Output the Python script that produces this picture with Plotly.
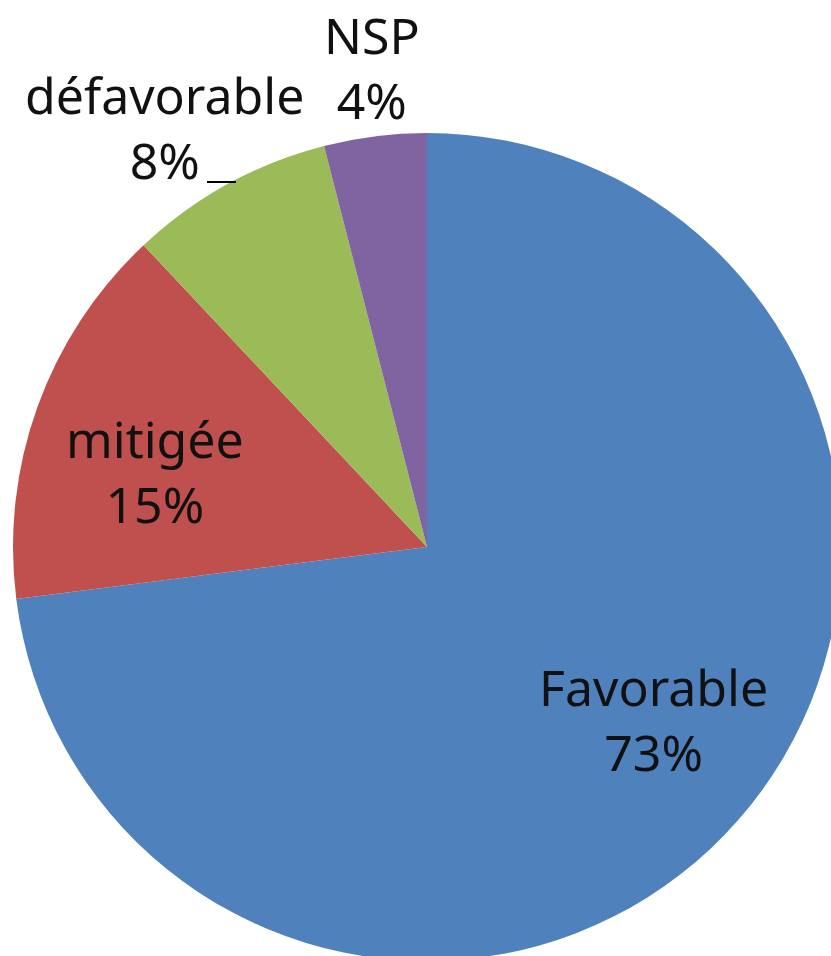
import plotly.graph_objects as go

# Data
categories = ["Favorable", "mitigée", "défavorable", "NSP"]
values = [73, 15, 8, 4]
colors = ["#4F81BD", "#C0504D", "#9BBB59", "#8064A2"]

W, H = 845, 965
cx, cy, r = 427, 547, 414

fig = go.Figure(go.Pie(
    labels=categories,
    values=values,
    sort=False,
    direction="clockwise",
    rotation=0,
    textinfo="none",
    hoverinfo="label+percent",
    marker=dict(colors=colors, line=dict(width=0)),
    domain=dict(x=[(cx - r) / W, (cx + r) / W], y=[1 - (cy + r) / H, 1 - (cy - r) / H]),
    showlegend=False,
))

# Label positions (pixels)
label_pos = [(653, 719), (155, 471), (164, 127), (372, 68)]
total = sum(values)
annotations = []
for cat, v, (px, py) in zip(categories, values, label_pos):
    annotations.append(dict(
        x=px / W, y=1 - py / H, xref="paper", yref="paper",
        text=f"{cat}<br>{round(100 * v / total)}%",
        showarrow=False, xanchor="center", yanchor="middle",
        font=dict(family="Noto Sans", size=50, color="#111111"),
    ))

fig.update_layout(
    width=W, height=H,
    margin=dict(l=0, r=0, t=0, b=0),
    paper_bgcolor="white", plot_bgcolor="white",
    annotations=annotations,
    shapes=[dict(type="line", xref="paper", yref="paper",
                 x0=207 / W, x1=236 / W, y0=1 - 182 / H, y1=1 - 182 / H,
                 line=dict(color="#000000", width=2))],
)

fig.write_html("out.html", config={"displayModeBar": False},
               post_script="document.body.style.margin='0';document.body.style.overflow='hidden';")
